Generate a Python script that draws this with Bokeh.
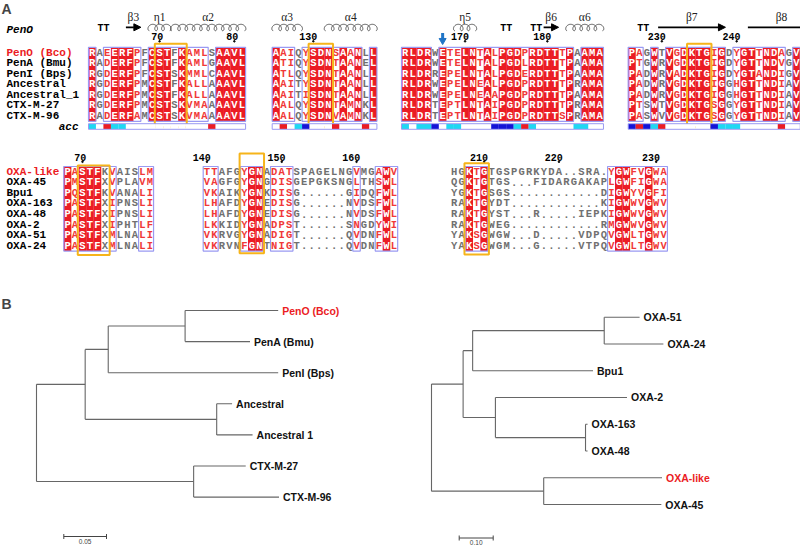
import numpy as np
from bokeh.plotting import figure
from bokeh.layouts import column, row
from bokeh.models import Range1d, Arrow, NormalHead, Label
from bokeh.core.properties import value
from bokeh.embed import file_html
from bokeh.resources import INLINE

# ======================= DATA =======================
# ---- Panel A, upper alignment (class A beta-lactamases) ----
top_names = ["PenO (Bco)", "PenA (Bmu)", "PenI (Bps)", "Ancestral", "Ancestral_1", "CTX-M-27", "CTX-M-96"]
top_block1 = ["RAEERFPFCSTFKAMLSAAVL", "RADERFPFCSTFKAMLGAAVL", "RGDERFPFCSTSKMMLCAAVL",
              "RGDERFPMCSTFKALLAAAVL", "RGDERFPMCSTFKALLAAAVL", "RGDERFPMCSTSKVMAAAAVL",
              "RADERFAMCSTSKVMAAAAVL"]
top_block2 = ["AAIQYSDNSAANLL", "ATIQYSDNTAANEL", "ATLQYSDNTAANLL", "AAITYSDNTAANLL",
              "AAITISDNTAANLL", "AALQYSDNTAMNKL", "AALQYSDNVAMNKL"]
top_block3 = ["RLDRWETELNTALPGDPRDTTTPAAMA", "RLDRWETELNTALPGDLRDTTTPAAMA",
              "RLDRREPELNTALPGDERDTTTPAAMA", "RLDRWEPELNEALPGDPRDTTTPRAMA",
              "RLDRWEPELNEAAPGDPRDTTTPAAMA", "RLDRTEPTLNTAIPGDPRDTTTPRAMA",
              "RLDRTEPTLNTAIPGDPRDTTSPRAMA"]
top_block4 = ["PAGWTVGDKTGIGDYGTTNDAGV", "PTGWRVGDKTGIGDYGTTNDVGV", "PADWRVADKTGIGDYGTANDIGV",
              "PADWRVGDKTGIGGHGTTNDIAV", "PADWRVGDKTGIGGHGTTNDIAV", "PTSWTVGDKTGSGGYGTTNDIAV",
              "PASWVVGDKTGSGGYGTTNDIAV"]
# conservation: I identical, S similar, b boxed, . none
top_cons = ["I.SIIIS.IIIbISSS.IIII", "ISS.SIIISISI.I",
            "IIII.ISSIISISIIISIIIISI.III", "IS.I.ISIIIISI.SIISIIS.I"]
# accessibility: c cyan, b blue, r red, w white
top_acc = ["cwrccwwwwwwwwwwwrwwww", "wrwcbwwwrwwwrw",
           "cwccbwccwwwwbbbcrcwwwwwccww", "brbcrwwwwwwbcccwwwwwrww"]
top_ticks = [[(70, 9), (80, 19)], [(130, 5)], [(170, 8), (180, 19)], [(230, 4), (240, 14)]]
top_motifs = [(9, 12), (5, 7), None, (8, 10)]
top_ss = [
    [("TT", "", 1, 2), ("beta", "β3", 5, 6), ("helix", "η1", 8, 10), ("helix", "α2", 11, 20)],
    [("helix", "α3", 0, 3), ("helix", "α4", 7, 13)],
    [("helix", "η5", 7, 9), ("TT", "", 13, 14), ("TT", "", 17, 18), ("beta", "β6", 19, 20),
     ("helix", "α6", 22, 26)],
    [("TT", "", 1, 2), ("beta", "β7", 4, 12), ("beta", "β8", 16, 24)],
]
top_marks = [(2, 5)]  # (block, column) of the blue arrow

# ---- Panel A, lower alignment (class D) ----
bot_names = ["OXA-like", "OXA-45", "Bpu1", "OXA-163", "OXA-48", "OXA-2", "OXA-51", "OXA-24"]
bot_block1 = ["PASTFKVAISLM", "PMSTFXVPLAVM", "PQSTFKVANALI", "PASTFXIPNSLI",
              "PASTFXIPNSLI", "PASTFXIPHTLF", "PASTFXMLNALI", "PASTFXMLNALI"]
bot_block2 = ["TTAFGYGNADATSPAGELNGVMGAWV", "VAGFGYGNGDISGEPGKSNGLTHSWL",
              "VKAIKYGNKDISG......GIDQFWL", "LHAFDYGNEDISG......NVDSFWL",
              "LHAFDYGNEDISG......NVDSFWL", "LKKIDYGNADPST......SNGDYWI",
              "VKRVGYGNADIGT......QVDNFWL", "VKRVNFGNTNIGT......QVDNFWL"]
bot_block3 = ["HGKTGTGSPGRKYDA..SRA.YGWFVGWA", "QGKTGTGS...FIDARGAKAPLGWFIGWA",
              "YGKTGSGS............DIGWYVGFI", "RAKTGYDT............KIGWWVGWV",
              "RAKTGYST...R.....IEPKIGWWVGWV", "RAKTGWEG............RMGWWVGWV",
              "YAKSGWGW...D.....VDPQVGWLTGWV", "YAKSGWGM...G.....VTPQVGWLTGWV"]
bot_cons = ["ISIIIbS...SS", "SS...SII.SSS........S..SIS", "..ISI................SIISSISS"]
bot_ticks = [[(70, 2)], [(140, 0), (150, 10), (160, 20)], [(210, 4), (220, 14), (230, 27)]]
bot_motifs = [(2, 5), (5, 7), (2, 4)]

highlight = ["PenO (Bco)", "OXA-like"]

# ---- Panel B trees (parent index, branch length) ----
left_names = [None, None, None, None, "PenO (Bco)", "PenA (Bmu)", "PenI (Bps)", None,
              "Ancestral", "Ancestral 1", None, "CTX-M-27", "CTX-M-96"]
left_parent = [-1, 0, 1, 2, 3, 3, 2, 1, 7, 7, 0, 10, 10]
left_len = [0.0, 0.057, 0.027, 0.090, 0.109, 0.076, 0.199, 0.154, 0.018, 0.042, 0.184, 0.061, 0.100]
left_scale = 0.05

right_names = [None, None, None, None, "OXA-51", "OXA-24", "Bpu1", None, "OXA-2", None,
               "OXA-163", "OXA-48", None, "OXA-like", "OXA-45"]
right_parent = [-1, 0, 1, 2, 3, 3, 2, 1, 7, 7, 9, 9, 0, 12, 12]
right_len = [0.0, 0.093, 0.028, 0.387, 0.104, 0.174, 0.354, 0.095, 0.387, 0.265, 0.006, 0.006,
             0.330, 0.348, 0.346]
right_scale = 0.10

# ======================= STYLE / LAYOUT =======================
RED_FILL = "#eb1c24"
RED_TXT = "#f03838"
GRAY_TXT = "#707070"
BOX_BLUE = "#9a9af2"
ORANGE = "#f6b41a"
ACC_COL = {"c": "#1fd8f2", "b": "#1414d6", "r": "#eb1c24", "w": "#ffffff"}
ARROW_BLUE = "#2075c7"
TREE_LINE = "#666666"
MONO = value("Liberation Mono")
SERIF = value("Liberation Serif")
SANS = value("Liberation Sans")

CW = 7.48
RH = 10.57
TOP_X0 = [88.0, 271.7, 401.0, 627.7]
TOP_Y0 = 46.8
BOT_X0 = [63.3, 202.7, 450.0]
BOT_Y0 = 166.0

W, HA, HB = 800, 280, 267
YB0, YB1 = 280, 547


def mkfig(w, h, xr, yr):
    p = figure(width=w, height=h, x_range=xr, y_range=yr, output_backend="svg",
               toolbar_location=None, min_border=0, x_axis_type=None, y_axis_type=None)
    p.outline_line_color = None
    p.background_fill_color = "white"
    p.border_fill_color = "white"
    return p


def runs(s):
    out, start = [], None
    for i, ch in enumerate(s):
        if ch != ".":
            if start is None:
                start = i
        else:
            if start is not None:
                out.append((start, i - 1))
                start = None
    if start is not None:
        out.append((start, len(s) - 1))
    return out


pa = mkfig(W, HA, Range1d(0, 800), Range1d(280, 0))


def draw_alignment(p, names, blocks, cons, x0s, y0, ticks, tick_y, motifs, motif_y):
    nrow = len(names)
    p.text(x=[6] * nrow, y=[y0 + (r + 0.5) * RH for r in range(nrow)], text=names,
           text_color=[RED_FILL if n in highlight else "black" for n in names],
           text_font=MONO, text_font_style="bold", text_font_size="11px",
           text_baseline="middle", text_align="left")
    for b, seqs in enumerate(blocks):
        x0 = x0s[b]
        cs = cons[b]
        ncol = len(seqs[0])
        fx = [x0 + (c + 0.5) * CW for c in range(ncol) if cs[c] == "I"]
        p.rect(x=fx, y=[y0 + nrow * RH / 2] * len(fx), width=CW + 0.15, height=nrow * RH,
               fill_color=RED_FILL, line_color=None)
        for c0, c1 in runs(cs):
            p.quad(left=[x0 + c0 * CW], right=[x0 + (c1 + 1) * CW], top=[y0], bottom=[y0 + nrow * RH],
                   fill_color=None, line_color=BOX_BLUE, line_width=1.2)
        xs, ys, ts, cols = [], [], [], []
        for r, s in enumerate(seqs):
            for c, ch in enumerate(s):
                xs.append(x0 + (c + 0.5) * CW)
                ys.append(y0 + (r + 0.5) * RH)
                ts.append(ch)
                if cs[c] == "I":
                    cols.append("white")
                elif cs[c] == "S" and ch != ".":
                    cols.append(RED_TXT)
                else:
                    cols.append(GRAY_TXT)
        p.text(x=xs, y=ys, text=ts, text_color=cols, text_font=MONO, text_font_style="bold",
               text_font_size="10.5px", text_align="center", text_baseline="middle")
        for num, c in ticks[b]:
            xc = x0 + (c + 0.5) * CW
            p.text(x=[xc + 3.8], y=[tick_y], text=[str(num)], text_font=MONO, text_font_style="bold",
                   text_font_size="10px", text_align="right", text_baseline="middle", text_color="black")
            p.scatter(x=[xc], y=[tick_y + 4.8], size=1.6, marker="circle", color="black")
        if motifs[b] is not None:
            c0, c1 = motifs[b]
            p.quad(left=[x0 + c0 * CW - 1], right=[x0 + (c1 + 1) * CW + 1], top=[motif_y[b][0]],
                   bottom=[motif_y[b][1]], fill_color=None, line_color=ORANGE, line_width=2)


draw_alignment(pa, top_names, [top_block1, top_block2, top_block3, top_block4], top_cons, TOP_X0,
               TOP_Y0, top_ticks, 36.0, top_motifs, [(43.3, 126.8)] * 4)
draw_alignment(pa, bot_names, [bot_block1, bot_block2, bot_block3], bot_cons, BOT_X0,
               BOT_Y0, bot_ticks, 156.5, bot_motifs, [(165.0, 254.5), (153.0, 252.7), (162.7, 254.0)])

# accessibility rows
ACC_Y = 126.0
for b, acc in enumerate(top_acc):
    x0 = TOP_X0[b]
    n = len(acc)
    pa.rect(x=[x0 + (c + 0.5) * CW for c in range(n)], y=[ACC_Y] * n, width=CW + 0.1, height=5.0,
            fill_color=[ACC_COL[a] for a in acc], line_color=None)
    pa.quad(left=[x0], right=[x0 + n * CW], top=[ACC_Y - 2.8], bottom=[ACC_Y + 2.8],
            fill_color=None, line_color=BOX_BLUE, line_width=1)
pa.text(x=[78], y=[ACC_Y], text=["acc"], text_font=MONO, text_font_style="bold italic",
        text_font_size="11px", text_align="right", text_baseline="middle", text_color="black")
pa.text(x=[6], y=[29], text=["PenO"], text_font=MONO, text_font_style="bold italic",
        text_font_size="11px", text_align="left", text_baseline="middle", text_color="black")

# secondary structure
BASE = 30.2
BC = 3.2
for b, elems in enumerate(top_ss):
    x0 = TOP_X0[b]
    for kind, lab, c0, c1 in elems:
        xa = x0 + c0 * CW
        xb = x0 + (c1 + 1) * CW
        xc = (xa + xb) / 2
        if kind == "helix":
            n = c1 - c0 + 1
            t = np.linspace(0, 2 * np.pi * n, 48 * n)
            a = (xb - xa - 2) / (2 * np.pi * n)
            hx = xa + 1 + a * t - BC * np.sin(t) * 0.9
            hy = BASE - BC * (1 - np.cos(t))
            pa.line(hx, hy, line_color="#333333", line_width=0.8)
        elif kind == "beta":
            pa.add_layout(Arrow(end=NormalHead(size=7, fill_color="black", line_color="black"),
                                x_start=xa, y_start=26.8, x_end=xb, y_end=26.8,
                                line_width=1.8, line_color="black"))
        elif kind == "TT":
            pa.text(x=[xc], y=[27.5], text=["TT"], text_font=MONO, text_font_style="bold",
                    text_font_size="10px", text_align="center", text_baseline="middle",
                    text_color="black")
        if lab:
            pa.text(x=[xc], y=[16.5], text=[lab], text_font=SERIF, text_font_size="11.5px",
                    text_align="center", text_baseline="middle", text_color="#222222")

for b, c in top_marks:
    xc = TOP_X0[b] + (c + 0.5) * CW
    pa.segment(x0=[xc], y0=[32.5], x1=[xc], y1=[39.0], line_color=ARROW_BLUE, line_width=3)
    pa.scatter(x=[xc], y=[40.0], marker="inverted_triangle", size=7, color=ARROW_BLUE)

pa.add_layout(Label(x=1, y=HA, x_units="screen", y_units="screen", text="A",
                    text_font="Liberation Sans", text_font_style="bold", text_font_size="14px",
                    text_baseline="top", text_align="left"))


# ======================= TREES =======================
def tree_figure(names, parent, length, scale_len, root_px, px_unit, leaf0_px, leaf_step,
                ref_x_span, scale_px, label_b=False):
    xr = Range1d((ref_x_span[0] - root_px) / px_unit, (ref_x_span[1] - root_px) / px_unit)
    yr = Range1d((YB1 - leaf0_px) / leaf_step, (YB0 - leaf0_px) / leaf_step)
    p = mkfig(ref_x_span[1] - ref_x_span[0], HB, xr, yr)
    n = len(parent)
    children = [[] for _ in range(n)]
    for i in range(1, n):
        children[parent[i]].append(i)
    x = [0.0] * n
    for i in range(1, n):
        x[i] = x[parent[i]] + length[i]
    y = [0.0] * n
    k = 0
    for i in range(n):
        if not children[i]:
            y[i] = k
            k += 1
    for i in reversed(range(n)):
        if children[i]:
            y[i] = sum(y[c] for c in children[i]) / len(children[i])
    hx0 = [x[parent[i]] for i in range(1, n)]
    hx1 = [x[i] for i in range(1, n)]
    hy = [y[i] for i in range(1, n)]
    p.segment(x0=hx0, y0=hy, x1=hx1, y1=hy, line_color=TREE_LINE, line_width=1.1)
    inner = [i for i in range(n) if children[i]]
    p.segment(x0=[x[i] for i in inner], y0=[min(y[c] for c in children[i]) for i in inner],
              x1=[x[i] for i in inner], y1=[max(y[c] for c in children[i]) for i in inner],
              line_color=TREE_LINE, line_width=1.1)
    leaves = [i for i in range(n) if not children[i]]
    p.text(x=[x[i] for i in leaves], y=[y[i] for i in leaves], text=[names[i] for i in leaves],
           text_color=[RED_FILL if names[i] in highlight else "#111111" for i in leaves],
           text_font=SANS, text_font_style="bold", text_font_size="10.5px",
           text_baseline="middle", text_align="left", x_offset=4)
    sx = (scale_px[0] - root_px) / px_unit
    sy = (scale_px[1] - leaf0_px) / leaf_step
    p.segment(x0=[sx], y0=[sy], x1=[sx + scale_len], y1=[sy], line_color="#444444", line_width=1)
    p.scatter(x=[sx, sx + scale_len], y=[sy, sy], marker="dash", angle=np.pi / 2, size=5,
              line_color="#444444", line_width=1)
    p.text(x=[sx + scale_len / 2], y=[sy], text=["%.2f" % scale_len], text_font=SANS,
           text_font_size="6.5px", text_align="center", text_baseline="top", y_offset=2,
           text_color="#444444")
    if label_b:
        p.add_layout(Label(x=1, y=HB - 23, x_units="screen", y_units="screen", text="B",
                           text_font="Liberation Sans", text_font_style="bold", text_font_size="14px",
                           text_baseline="middle", text_align="left"))
    return p


pl = tree_figure(left_names, left_parent, left_len, left_scale, 36.0, 854.0, 310.0, 31.1,
                 (0, 400), (63.3, 536.0), label_b=True)
pr = tree_figure(right_names, right_parent, right_len, right_scale, 431.0, 340.0, 316.7, 26.76,
                 (400, 800), (458.7, 537.5))

layout = column(pa, row(pl, pr, spacing=0), spacing=0)
open("out.html", "w").write(file_html(layout, INLINE))
